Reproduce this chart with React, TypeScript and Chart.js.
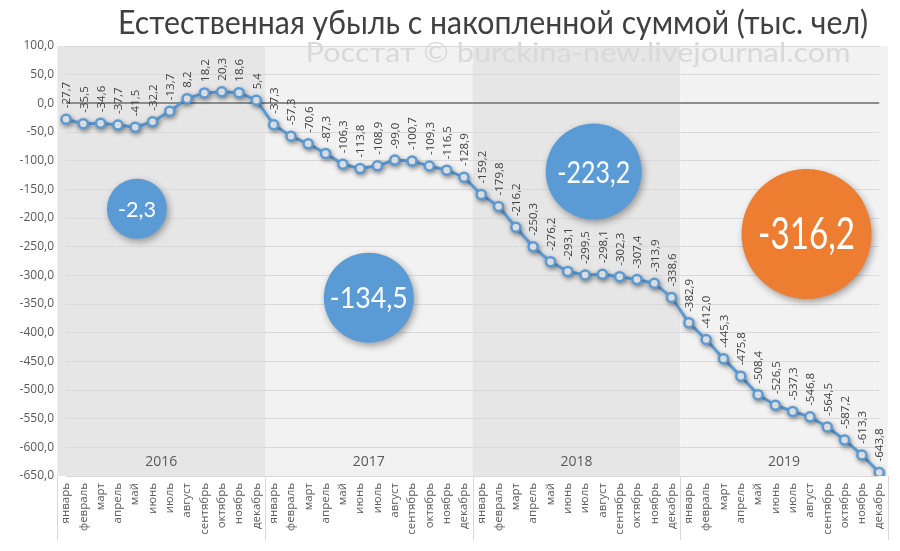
import React, { useEffect, useRef } from "react";
import { Chart, registerables } from "chart.js";

Chart.register(...registerables);

const months = ["январь", "февраль", "март", "апрель", "май", "июнь", "июль", "август", "сентябрь", "октябрь", "ноябрь", "декабрь"];
const years = ["2016", "2017", "2018", "2019"];
const values2016 = [-27.7, -35.5, -34.6, -37.7, -41.5, -32.2, -13.7, 8.2, 18.2, 20.3, 18.6, 5.4];
const values2017 = [-37.3, -57.3, -70.6, -87.3, -106.3, -113.8, -108.9, -99.0, -100.7, -109.3, -116.5, -128.9];
const values2018 = [-159.2, -179.8, -216.2, -250.3, -276.2, -293.1, -299.5, -298.1, -302.3, -307.4, -313.9, -338.6];
const values2019 = [-382.9, -412.0, -445.3, -475.8, -508.4, -526.5, -537.3, -546.8, -564.5, -587.2, -613.3, -643.8];
const yearTotals = ["-2,3", "-134,5", "-223,2", "-316,2"];
// bubble centres in data coordinates (category index, value)
const bubbleX = [4.1, 17.5, 30.5, 42.8];
const bubbleY = [-184, -339, -119, -228];

const TITLE = "Естественная убыль с накопленной суммой (тыс. чел)";
const WATERMARK = "Росстат © burckina-new.livejournal.com";

const fmt = (v: number) => v.toFixed(1).replace(".", ",");

const labels = years.flatMap(() => months);
const data = [...values2016, ...values2017, ...values2018, ...values2019];

const bubbleR = [30, 45, 48, 65];
const bubbleColor = ["#5b9bd5", "#5b9bd5", "#5b9bd5", "#ed7d31"];
const bubbleFont = [22, 28, 31, 44];
const bubbleTextW = [38, 78, 73, 97];
const bandColors = ["#e6e6e6", "#f2f2f2", "#e6e6e6", "#f2f2f2"];
const THIN = '"Lato", "Roboto", "Open Sans", sans-serif';

function fitText(ctx: CanvasRenderingContext2D, text: string, font: string, cx: number, baseline: number, width: number, color: string, base: CanvasTextBaseline = "alphabetic") {
  ctx.save();
  ctx.font = font;
  const w = ctx.measureText(text).width;
  const s = width / w;
  ctx.translate(cx, baseline);
  ctx.scale(s, 1);
  ctx.fillStyle = color;
  ctx.textAlign = "center";
  ctx.textBaseline = base;
  ctx.fillText(text, 0, 0);
  ctx.restore();
}

const customPlugin = {
  id: "custom",
  beforeDraw(chart: any) {
    const { ctx, chartArea: a, scales } = chart;
    const x = scales.x;
    const half = (x.getPixelForValue(1) - x.getPixelForValue(0)) / 2;
    ctx.save();
    years.forEach((_, i) => {
      const x0 = x.getPixelForValue(i * 12) - half;
      const x1 = x.getPixelForValue(i * 12 + 11) + half;
      ctx.fillStyle = bandColors[i];
      ctx.fillRect(x0, a.top, x1 - x0, a.bottom - a.top);
    });
    ctx.restore();
    fitText(ctx, TITLE, "400 32px " + THIN, 493, 34, 750, "#404040");
    fitText(ctx, WATERMARK, "400 27px " + THIN, 578, 62, 545, "#d9d9d9");
  },
  beforeDatasetsDraw(chart: any) {
    const { ctx, scales } = chart;
    const x = scales.x;
    const y = scales.y;
    ctx.save();
    ctx.font = '14px "Open Sans", sans-serif';
    ctx.fillStyle = "#595959";
    ctx.textAlign = "center";
    ctx.textBaseline = "middle";
    years.forEach((yr, i) => {
      const cx = (x.getPixelForValue(i * 12) + x.getPixelForValue(i * 12 + 11)) / 2;
      ctx.fillText(yr, cx, y.getPixelForValue(-625));
    });
    ctx.restore();
    ctx.save();
    ctx.shadowColor = "rgba(0,0,0,0.35)";
    ctx.shadowBlur = 5;
    ctx.shadowOffsetX = 1;
    ctx.shadowOffsetY = 2;
  },
  afterDatasetsDraw(chart: any) {
    const { ctx, scales } = chart;
    ctx.restore();
    const x = scales.x;
    const y = scales.y;
    const meta = chart.getDatasetMeta(0);
    ctx.save();
    ctx.font = '11.5px "Open Sans", sans-serif';
    ctx.fillStyle = "#404040";
    ctx.textAlign = "left";
    ctx.textBaseline = "middle";
    meta.data.forEach((pt: any, i: number) => {
      ctx.save();
      ctx.translate(pt.x + 1, pt.y - 11);
      ctx.rotate(-Math.PI / 2);
      ctx.fillText(fmt(data[i]), 0, 0);
      ctx.restore();
    });
    ctx.restore();
    // bubbles
    yearTotals.forEach((t, i) => {
      const cx = x.getPixelForValue(0) + (x.getPixelForValue(1) - x.getPixelForValue(0)) * bubbleX[i];
      const cy = y.getPixelForValue(bubbleY[i]);
      ctx.save();
      ctx.shadowColor = "rgba(0,0,0,0.35)";
      ctx.shadowBlur = 7;
      ctx.shadowOffsetX = 2;
      ctx.shadowOffsetY = 3;
      ctx.beginPath();
      ctx.arc(cx, cy, bubbleR[i], 0, Math.PI * 2);
      ctx.fillStyle = bubbleColor[i];
      ctx.fill();
      ctx.restore();
      fitText(ctx, t, `400 ${bubbleFont[i]}px ` + THIN, cx, cy + 1, bubbleTextW[i], "#ffffff", "middle");
    });
  },
  afterDraw(chart: any) {
    const { ctx, chartArea: a, scales } = chart;
    const x = scales.x;
    const half = (x.getPixelForValue(1) - x.getPixelForValue(0)) / 2;
    ctx.save();
    ctx.strokeStyle = "#d9d9d9";
    ctx.lineWidth = 1;
    for (let i = 0; i <= years.length; i++) {
      const px = i < years.length ? x.getPixelForValue(i * 12) - half : x.getPixelForValue(i * 12 - 1) + half;
      ctx.beginPath();
      ctx.moveTo(Math.round(px) + 0.5, a.bottom);
      ctx.lineTo(Math.round(px) + 0.5, a.bottom + 64);
      ctx.stroke();
    }
    ctx.restore();
  },
};

export default function App() {
  const ref = useRef<HTMLCanvasElement | null>(null);
  useEffect(() => {
    document.body.style.margin = "0";
    const chart = new Chart(ref.current as HTMLCanvasElement, {
      type: "line",
      data: {
        labels,
        datasets: [
          {
            data,
            borderColor: "#5b9bd5",
            borderWidth: 3,
            pointRadius: 4.5,
            pointBorderWidth: 2.5,
            pointBackgroundColor: "#ffffff",
            pointBorderColor: "#5b9bd5",
            tension: 0,
          },
        ],
      },
      options: {
        animation: false,
        responsive: false,
        maintainAspectRatio: false,
        layout: { padding: { top: 46, right: 18, left: 8, bottom: 0 } },
        plugins: { legend: { display: false }, tooltip: { enabled: false } },
        scales: {
          x: {
            grid: { display: false, drawTicks: false },
            border: { display: false },
            ticks: {
              autoSkip: false,
              minRotation: 90,
              maxRotation: 90,
              padding: 7,
              color: "#595959",
              font: { family: "Open Sans", size: 11.5 },
            },
            afterFit: (s: any) => {
              s.height = 75;
            },
          },
          y: {
            min: -650,
            max: 100,
            grid: {
              drawTicks: false,
              color: (c: any) => (c.tick && c.tick.value === 0 ? "#8c8c8c" : "#d9d9d9"),
              lineWidth: (c: any) => (c.tick && c.tick.value === 0 ? 2 : 1),
            },
            border: { display: false },
            ticks: {
              stepSize: 50,
              padding: 12,
              color: "#595959",
              font: { family: "Open Sans", size: 12 },
              callback: (v: any) => fmt(Number(v)),
            },
            afterFit: (s: any) => {
              s.width = 58;
            },
          },
        },
      },
      plugins: [customPlugin],
    });
    return () => chart.destroy();
  }, []);
  return (
    <div style={{ position: "absolute", left: 0, top: 0, width: 900, height: 551 }}>
      <canvas ref={ref} width={900} height={551} style={{ width: 900, height: 551, display: "block" }} />
    </div>
  );
}
